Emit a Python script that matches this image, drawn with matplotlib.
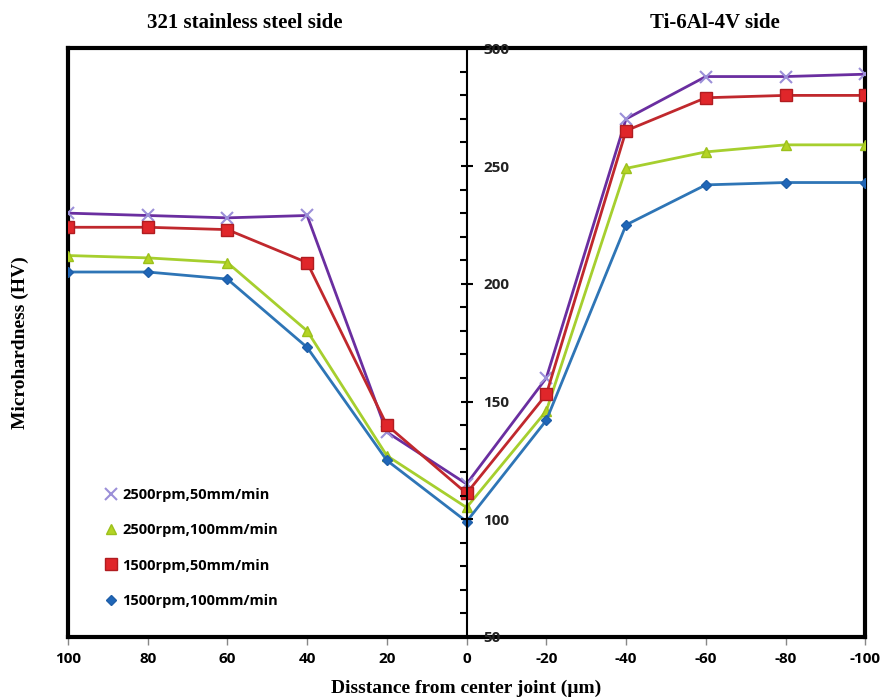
import matplotlib
matplotlib.use("Agg")
import matplotlib.pyplot as plt
from matplotlib.lines import Line2D
from matplotlib.ticker import MultipleLocator, FuncFormatter

plt.rcParams["axes.unicode_minus"] = False

# distance from center joint (um); positive = 321 steel side, negative = Ti side
distance = [100, 80, 60, 40, 20, 0, -20, -40, -60, -80, -100]

hv_2500_50  = [230, 229, 228, 229, 137, 115, 160, 270, 288, 288, 289]
hv_2500_100 = [212, 211, 209, 180, 127, 105, 146, 249, 256, 259, 259]
hv_1500_50  = [224, 224, 223, 209, 140, 111, 153, 265, 279, 280, 280]
hv_1500_100 = [205, 205, 202, 173, 125, 99, 142, 225, 242, 243, 243]

labels = ["2500rpm,50mm/min", "2500rpm,100mm/min",
          "1500rpm,50mm/min", "1500rpm,100mm/min"]

SERIF = "Liberation Serif"
SANS = "Open Sans"

fig = plt.figure(figsize=(8.82, 7.0), dpi=100)
ax = fig.add_axes([0.077, 0.09, 0.904, 0.841])

# (line colour, marker, marker face, marker edge, size)
styles = [
    ("#6a2ea0", "x", "#9b8fd8", "#9b8fd8", 9),
    ("#a6cf2e", "^", "#b4d424", "#9cc01c", 7),
    ("#c0282d", "s", "#e0262a", "#b01c20", 8),
    ("#2e75b6", "D", "#1f66b8", "#1f5fa8", 5),
]
series = [hv_2500_50, hv_2500_100, hv_1500_50, hv_1500_100]

for vals, (lc, mk, mf, me, ms) in zip(series, styles):
    ax.plot(distance, vals, color=lc, lw=2, marker=mk, mfc=mf, mec=me,
            ms=ms, mew=1.5 if mk == "x" else 1, zorder=3)

ax.set_xlim(100, -100)
ax.set_ylim(50, 300)
for s in ax.spines.values():
    s.set_linewidth(3)
    s.set_color("black")

# center y-axis at x = 0 with labels on its right
ax2 = ax.twinx()
ax2.set_ylim(50, 300)
for k in ["left", "top", "bottom"]:
    ax2.spines[k].set_visible(False)
ax2.spines["right"].set_position(("data", 0))
ax2.spines["right"].set_linewidth(1.5)
ax2.yaxis.set_major_locator(MultipleLocator(50))
ax2.yaxis.set_minor_locator(MultipleLocator(10))
ax2.tick_params(axis="y", which="major", direction="inout", length=8, width=1.5,
                pad=8, labelsize=11)
ax2.tick_params(axis="y", which="minor", direction="in", length=5, width=1.5)
for t in ax2.get_yticklabels():
    t.set_fontfamily(SANS)
    t.set_fontweight("bold")
    t.set_color("#222222")

# outer frame: no y ticks, x ticks below
ax.tick_params(axis="y", which="both", left=False, right=False,
               labelleft=False, labelright=False)
ax.xaxis.set_major_locator(MultipleLocator(20))
ax.xaxis.set_major_formatter(FuncFormatter(lambda v, p: f"{v:.0f}"))
ax.tick_params(axis="x", direction="out", length=6, width=1, color="#888888",
               pad=5, labelsize=11)
for t in ax.get_xticklabels():
    t.set_fontfamily(SANS)
    t.set_fontweight("bold")

ax.set_ylabel("Microhardness (HV)", fontfamily=SERIF, fontweight="bold",
              fontsize=14, labelpad=28)
ax.set_xlabel("Disstance from center joint (\u00b5m)", fontfamily=SERIF,
              fontweight="bold", fontsize=14, labelpad=10)

fig.text(0.278, 0.967, "321 stainless steel side", ha="center", va="center",
         fontfamily=SERIF, fontweight="bold", fontsize=15)
fig.text(0.81, 0.967, "Ti-6Al-4V side", ha="center", va="center",
         fontfamily=SERIF, fontweight="bold", fontsize=15)

handles = [Line2D([], [], ls="none", marker=mk, mfc=mf, mec=me, ms=ms,
                  mew=1.5 if mk == "x" else 1)
           for (lc, mk, mf, me, ms) in styles]
leg = ax.legend(handles, labels, loc="upper left", bbox_to_anchor=(0.03, 0.275),
                frameon=False, handlelength=0.8, handletextpad=0.4,
                labelspacing=1.45, prop={"family": SANS, "weight": "bold", "size": 10.5})

fig.savefig("out.png", dpi=100)
